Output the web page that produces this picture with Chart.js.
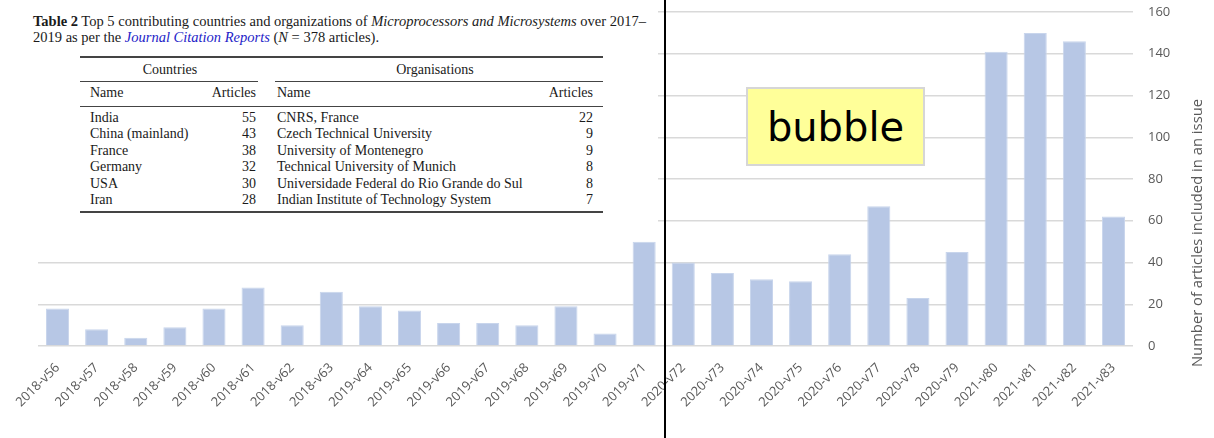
<!DOCTYPE html>
<html>
<head>
<meta charset="utf-8">
<script src="https://cdn.jsdelivr.net/npm/chart.js@4.4.1/dist/chart.umd.min.js"></script>
<style>
  html, body { margin: 0; padding: 0; background: #fff; }
  #wrap { position: relative; width: 1214px; height: 438px; overflow: hidden; }
  #chartBox { position: absolute; left: 0; top: 0; width: 1214px; height: 438px; }
  #tableImg { position: absolute; left: 0; top: 0; width: 658px; height: 230px; background: #fff;
    font-family: "Liberation Serif", "Times New Roman", serif; color: #1a1a1a; }
  #tableImg .t { position: absolute; white-space: nowrap; line-height: 1; }
  #tableImg .rule { position: absolute; background: #444; }
  #caption { position: absolute; left: 33px; top: 13px; font-size: 14.5px; line-height: 16px; white-space: nowrap; }
  #caption a { color: #2323c8; font-style: italic; text-decoration: none; }
  #vline { position: absolute; left: 664px; top: 0; width: 2px; height: 438px; background: #000; }
  #bubble { position: absolute; left: 746px; top: 87px; width: 175px; height: 75px; background: #ffff99;
    border: 2px solid #d6d6d6; font-family: "DejaVu Sans", sans-serif; font-size: 40px; color: #000;
    display: flex; align-items: center; justify-content: center; }
</style>
</head>
<body>
<div id="wrap">
  <div id="chartBox"><canvas id="c"></canvas></div>
  <div id="tableImg">
    <div id="caption"><b>Table 2</b> Top 5 contributing countries and organizations of <i>Microprocessors and Microsystems</i> over 2017–<br>2019 as per the <a>Journal Citation Reports</a> (<i>N</i> = 378 articles).</div>
  </div>
  <div id="vline"></div>
  <div id="bubble">bubble</div>
</div>
<script>
// ---- chart data ----
const categories = ["2018-v56","2018-v57","2018-v58","2018-v59","2018-v60","2018-v61","2018-v62","2018-v63",
  "2019-v64","2019-v65","2019-v66","2019-v67","2019-v68","2019-v69","2019-v70","2019-v71",
  "2020-v72","2020-v73","2020-v74","2020-v75","2020-v76","2020-v77","2020-v78","2020-v79",
  "2021-v80","2021-v81","2021-v82","2021-v83"];
const articles = [18, 8, 4, 9, 18, 28, 10, 26, 19, 17, 11, 11, 10, 19, 6, 50,
  40, 35, 32, 31, 44, 67, 23, 45, 141, 150, 146, 62];
const yTickValues = [0, 20, 40, 60, 80, 100, 120, 140, 160];
const yAxisTitle = "Number of articles included in an issue";

// ---- table data ----
const countryNames = ["India", "China (mainland)", "France", "Germany", "USA", "Iran"];
const countryArticles = [55, 43, 38, 32, 30, 28];
const orgNames = ["CNRS, France", "Czech Technical University", "University of Montenegro",
  "Technical University of Munich", "Universidade Federal do Rio Grande do Sul", "Indian Institute of Technology System"];
const orgArticles = [22, 9, 9, 8, 8, 7];

// ---- build table overlay ----
(function () {
  const box = document.getElementById('tableImg');
  const fs = 14;
  function txt(s, x, yc, align) {
    const d = document.createElement('div');
    d.className = 't';
    d.textContent = s;
    d.style.fontSize = fs + 'px';
    d.style.top = (yc - fs / 2) + 'px';
    if (align === 'right') { d.style.right = (658 - x) + 'px'; }
    else if (align === 'center') { d.style.left = (x - 150) + 'px'; d.style.width = '300px'; d.style.textAlign = 'center'; }
    else { d.style.left = x + 'px'; }
    box.appendChild(d);
  }
  function rule(x1, x2, y, h) {
    const d = document.createElement('div');
    d.className = 'rule';
    d.style.left = x1 + 'px'; d.style.width = (x2 - x1) + 'px';
    d.style.top = y + 'px'; d.style.height = h + 'px';
    box.appendChild(d);
  }
  rule(80, 603, 56, 1.6);
  txt("Countries", 170, 69.5, 'center');
  txt("Organisations", 435, 69.5, 'center');
  rule(80, 258, 80.5, 1);
  rule(275, 603, 80.5, 1);
  txt("Name", 90, 93, 'left');
  txt("Articles", 256, 93, 'right');
  txt("Name", 277, 93, 'left');
  txt("Articles", 593, 93, 'right');
  rule(80, 603, 105.5, 1);
  const rowsY = [117.5, 134, 150.5, 167, 183.5, 200];
  for (let i = 0; i < countryNames.length; i++) {
    txt(countryNames[i], 90, rowsY[i], 'left');
    txt(String(countryArticles[i]), 256, rowsY[i], 'right');
    txt(orgNames[i], 277, rowsY[i], 'left');
    txt(String(orgArticles[i]), 593, rowsY[i], 'right');
  }
  rule(80, 603, 211, 1.6);
})();

// ---- custom axis title (reads bottom-to-top on right side) ----
const rightTitle = {
  id: 'rightTitle',
  afterDraw(chart) {
    const ctx = chart.ctx;
    ctx.save();
    ctx.translate(1198, 233);
    ctx.rotate(-Math.PI / 2);
    ctx.font = '14.8px "Open Sans"';
    ctx.fillStyle = '#595959';
    ctx.textAlign = 'center';
    ctx.textBaseline = 'middle';
    ctx.fillText(yAxisTitle, 0, 0);
    ctx.restore();
  }
};

new Chart(document.getElementById('c'), {
  type: 'bar',
  data: {
    labels: categories,
    datasets: [{
      data: articles,
      backgroundColor: '#b7c7e5',
      borderColor: '#c8d5ec',
      borderWidth: 1,
      barPercentage: 0.59,
      categoryPercentage: 1.0
    }]
  },
  options: {
    responsive: true,
    maintainAspectRatio: false,
    animation: false,
    layout: { padding: { left: 38, top: 12, right: 0, bottom: 0 } },
    plugins: { legend: { display: false }, tooltip: { enabled: false } },
    scales: {
      x: {
        grid: { display: false },
        border: { display: false },
        ticks: {
          autoSkip: false, minRotation: 45, maxRotation: 45,
          color: '#595959', font: { family: 'Open Sans', size: 13 }, padding: 6
        },
        afterFit(scale) { scale.height = 92; scale.paddingTop = 0; }
      },
      y: {
        position: 'right',
        min: 0, max: 160,
        afterBuildTicks(scale) { scale.ticks = yTickValues.map(v => ({ value: v })); },
        grid: { color: '#d9d9d9', lineWidth: 1.5, drawTicks: false },
        border: { display: false },
        ticks: { color: '#595959', font: { family: 'Open Sans', size: 13 }, padding: 15 },
        afterFit(scale) { scale.width = 81; scale.paddingTop = 0; scale.paddingBottom = 0; }
      }
    }
  },
  plugins: [rightTitle]
});
</script>
</body>
</html>
